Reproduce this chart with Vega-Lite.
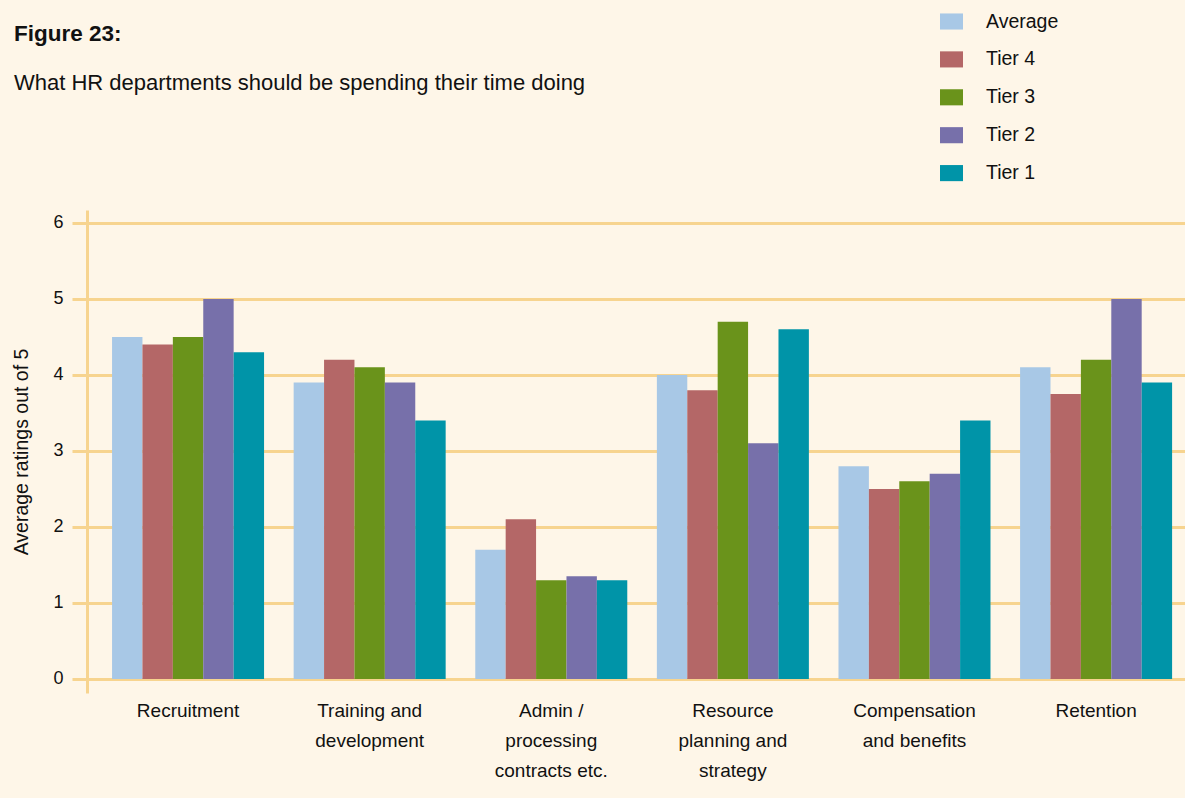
{
  "$schema": "https://vega.github.io/schema/vega-lite/v6.json",
  "width": 1098,
  "height": 483,
  "autosize": {"type": "none"},
  "padding": {"left": 87, "top": 210, "right": 0, "bottom": 105},
  "background": "#fef6e8",
  "title": {
    "text": "Figure 23:",
    "subtitle": "What HR departments should be spending their time doing",
    "anchor": "start",
    "frame": "group",
    "dx": -73,
    "dy": 88,
    "font": "Liberation Sans",
    "fontSize": 22.5,
    "fontWeight": "bold",
    "color": "#111111",
    "subtitleFont": "Liberation Sans",
    "subtitleFontSize": 22,
    "subtitleColor": "#111111",
    "subtitlePadding": 28
  },
  "data": {
    "values": [
      {"category": "Recruitment", "series": "Average", "value": 4.5},
      {"category": "Recruitment", "series": "Tier 4", "value": 4.4},
      {"category": "Recruitment", "series": "Tier 3", "value": 4.5},
      {"category": "Recruitment", "series": "Tier 2", "value": 5.0},
      {"category": "Recruitment", "series": "Tier 1", "value": 4.3},
      {"category": "Training and development", "series": "Average", "value": 3.9},
      {"category": "Training and development", "series": "Tier 4", "value": 4.2},
      {"category": "Training and development", "series": "Tier 3", "value": 4.1},
      {"category": "Training and development", "series": "Tier 2", "value": 3.9},
      {"category": "Training and development", "series": "Tier 1", "value": 3.4},
      {"category": "Admin / processing contracts etc.", "series": "Average", "value": 1.7},
      {"category": "Admin / processing contracts etc.", "series": "Tier 4", "value": 2.1},
      {"category": "Admin / processing contracts etc.", "series": "Tier 3", "value": 1.3},
      {"category": "Admin / processing contracts etc.", "series": "Tier 2", "value": 1.35},
      {"category": "Admin / processing contracts etc.", "series": "Tier 1", "value": 1.3},
      {"category": "Resource planning and strategy", "series": "Average", "value": 4.0},
      {"category": "Resource planning and strategy", "series": "Tier 4", "value": 3.8},
      {"category": "Resource planning and strategy", "series": "Tier 3", "value": 4.7},
      {"category": "Resource planning and strategy", "series": "Tier 2", "value": 3.1},
      {"category": "Resource planning and strategy", "series": "Tier 1", "value": 4.6},
      {"category": "Compensation and benefits", "series": "Average", "value": 2.8},
      {"category": "Compensation and benefits", "series": "Tier 4", "value": 2.5},
      {"category": "Compensation and benefits", "series": "Tier 3", "value": 2.6},
      {"category": "Compensation and benefits", "series": "Tier 2", "value": 2.7},
      {"category": "Compensation and benefits", "series": "Tier 1", "value": 3.4},
      {"category": "Retention", "series": "Average", "value": 4.1},
      {"category": "Retention", "series": "Tier 4", "value": 3.75},
      {"category": "Retention", "series": "Tier 3", "value": 4.2},
      {"category": "Retention", "series": "Tier 2", "value": 5.0},
      {"category": "Retention", "series": "Tier 1", "value": 3.9}
    ]
  },
  "mark": {"type": "bar"},
  "encoding": {
    "x": {
      "field": "category",
      "type": "nominal",
      "sort": ["Recruitment", "Training and development", "Admin / processing contracts etc.", "Resource planning and strategy", "Compensation and benefits", "Retention"],
      "scale": {"paddingInner": 0.163, "paddingOuter": 0.1045, "align": 0.66},
      "axis": {
        "title": null,
        "labelAngle": 0,
        "ticks": false,
        "domain": false,
        "grid": false,
        "labelFont": "Liberation Sans",
        "labelFontSize": 19,
        "labelColor": "#111111",
        "labelLineHeight": 30,
        "labelBaseline": "top",
        "labelPadding": 8,
        "labelOverlap": false,
        "labelLimit": 0,
        "labelExpr": "datum.value == 'Training and development' ? ['Training and', 'development'] : datum.value == 'Admin / processing contracts etc.' ? ['Admin /', 'processing', 'contracts etc.'] : datum.value == 'Resource planning and strategy' ? ['Resource', 'planning and', 'strategy'] : datum.value == 'Compensation and benefits' ? ['Compensation', 'and benefits'] : datum.value"
      }
    },
    "xOffset": {
      "field": "series",
      "type": "nominal",
      "sort": ["Average", "Tier 4", "Tier 3", "Tier 2", "Tier 1"],
      "scale": {"paddingInner": 0, "paddingOuter": 0}
    },
    "y": {
      "field": "value",
      "type": "quantitative",
      "scale": {"domain": [-0.185, 6.17], "nice": false, "zero": false},
      "axis": {
        "title": "Average ratings out of 5",
        "values": [0, 1, 2, 3, 4, 5, 6],
        "grid": true,
        "gridColor": "#f7d48f",
        "gridWidth": 3,
        "domainColor": "#f7d48f",
        "domainWidth": 3,
        "tickColor": "#f7d48f",
        "tickWidth": 3,
        "tickSize": 15,
        "labelFont": "Liberation Sans",
        "labelFontSize": 18,
        "labelColor": "#111111",
        "labelPadding": 9,
        "titleFont": "Liberation Sans",
        "titleFontSize": 19.5,
        "titleFontWeight": "normal",
        "titleColor": "#111111",
        "titlePadding": 21
      }
    },
    "y2": {"datum": 0},
    "color": {
      "field": "series",
      "type": "nominal",
      "sort": ["Average", "Tier 4", "Tier 3", "Tier 2", "Tier 1"],
      "scale": {
        "domain": ["Average", "Tier 4", "Tier 3", "Tier 2", "Tier 1"],
        "range": ["#a8c8e6", "#b46767", "#6a931b", "#7770aa", "#0094a8"]
      },
      "legend": {
        "title": null,
        "orient": "none",
        "legendX": 853,
        "legendY": -200,
        "symbolType": "M-1,-0.7H1V0.7H-1Z",
        "symbolSize": 529,
        "symbolStrokeWidth": 0,
        "symbolOpacity": 1,
        "rowPadding": 16.9,
        "labelOffset": 23,
        "labelFont": "Liberation Sans",
        "labelFontSize": 19.5,
        "labelColor": "#111111"
      }
    }
  },
  "config": {
    "view": {"stroke": null}
  }
}
